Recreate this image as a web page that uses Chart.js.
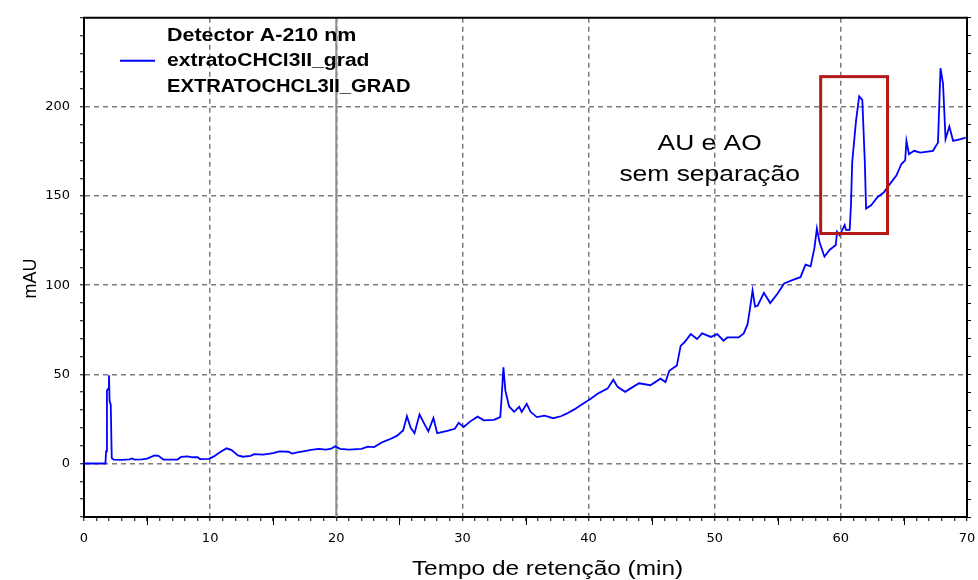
<!DOCTYPE html>
<html>
<head>
<meta charset="utf-8">
<script src="https://cdn.jsdelivr.net/npm/chart.js@4/dist/chart.umd.min.js"></script>
<style>
  html, body { margin: 0; padding: 0; background: #fff; }
</style>
</head>
<body>
<canvas id="chromatogram" width="978" height="580"></canvas>
<script>
(() => {
  'use strict';

  // chromatogram trace
  const retentionTime = [
    0, 1.7, 1.75, 1.82, 1.92, 1.98, 2.03, 2.12, 2.2, 2.35, 3.0, 3.6, 3.8, 4.0, 4.6, 5.0, 5.6, 5.9, 6.3, 7.4,
    7.7, 8.2, 8.6, 9.0, 9.2, 9.9, 10.3, 10.8, 11.3, 11.7, 12.2, 12.6, 13.2, 13.5, 14.2, 15.0, 15.5, 16.2, 16.5, 17.0,
    17.5, 18.0, 18.6, 19.2, 19.6, 19.9, 20.3, 21.0, 22.0, 22.5, 23.0, 23.6, 24.2, 24.8, 25.3, 25.6, 25.9, 26.2, 26.6, 27.0,
    27.3, 27.7, 28.0, 28.8, 29.4, 29.7, 30.1, 30.6, 31.2, 31.7, 32.5, 33.0, 33.1, 33.25, 33.4, 33.7, 34.1, 34.5, 34.7, 35.1,
    35.4, 35.9, 36.5, 37.2, 37.8, 38.3, 38.9, 39.4, 40.2, 40.8, 41.5, 41.96, 42.3, 42.9, 43.3, 44.0, 44.9, 45.7, 46.1, 46.4,
    47.0, 47.3, 47.6, 48.1, 48.6, 49.0, 49.7, 50.2, 50.7, 51.0, 51.9, 52.3, 52.6, 52.8, 53.0, 53.2, 53.4, 53.9, 54.4, 55.0,
    55.5, 56.2, 56.8, 57.2, 57.6, 57.9, 58.1, 58.3, 58.7, 59.1, 59.6, 59.7, 59.9, 60.3, 60.4, 60.7, 60.8, 60.9, 61.2, 61.45,
    61.7, 61.9, 62.0, 62.4, 62.9, 63.4, 63.8, 64.4, 64.8, 65.1, 65.2, 65.4, 65.8, 66.3, 67.3, 67.7, 67.9, 68.1, 68.3, 68.6,
    68.9, 69.5, 69.9
  ];
  const absorbance = [
    0, 0, 6.8, 41, 42, 49.5, 35, 33, 3, 2.2, 2.0, 2.3, 2.8, 2.2, 2.3, 2.8, 4.5, 4.3, 2.2, 2.2,
    3.7, 4.0, 3.5, 3.5, 2.5, 2.6, 4.0, 6.5, 8.5, 7.5, 4.5, 3.8, 4.3, 5.3, 5.0, 5.8, 6.8, 6.6, 5.6, 6.4,
    7.0, 7.6, 8.2, 7.8, 8.3, 9.6, 8.2, 7.8, 8.2, 9.5, 9.2, 11.8, 13.5, 15.5, 18.5, 26.5, 20, 17, 27.5, 22,
    18, 25.5, 17, 18.3, 19.5, 22.8, 20.5, 23.5, 26.3, 24.2, 24.5, 26, 36.5, 54, 41, 32, 29, 31.8, 29, 33.5,
    29, 26, 26.8, 25.4, 26.5, 28.1, 30.5, 32.8, 36.5, 39.5, 42, 47, 43, 40.2, 42, 45, 43.9, 47.6, 45.7, 52,
    55, 66, 68, 72.6, 69.8, 73, 71, 72.6, 68.9, 70.7, 70.7, 73, 78, 87, 97, 88, 88.5, 95.7, 90, 95.5,
    101, 103, 104.5, 111.5, 110.6, 120.7, 131.8, 124.4, 116, 119.8, 122.6, 130, 128, 133.7, 131, 131, 144.8, 169, 192, 206,
    204, 169, 143, 144.8, 149.4, 152, 156, 161.5, 168, 170, 181, 173.5, 175.4, 174.4, 175.4, 180, 221.7, 213, 182, 189,
    181, 182, 182.8
  ];

  const timeRange = [0, 70];
  const absRange = [-30, 250];
  const absLabelMax = 200;
  const timeLabelStep = 10;
  const absLabelStep = 50;
  const markerTime = 20;
  const boxTime = [58.4, 63.7];
  const boxAbs = [129, 217];

  const legendTitle = 'Detector A-210 nm';
  const seriesName = 'extratoCHCl3II_grad';
  const sampleName = 'EXTRATOCHCL3II_GRAD';
  const noteLines = ['AU e AO', 'sem separação'];
  const xTitle = 'Tempo de retenção (min)';
  const yTitle = 'mAU';

  const SANS = '"Liberation Sans", Arial, sans-serif';
  const TICKFONT = {family: '"DejaVu Sans", sans-serif', size: 13};
  const GRID = '#7c7c7c';

  const wideText = (ctx, text, x, y, sx) => {
    ctx.save();
    ctx.translate(x, y);
    ctx.scale(sx, 1);
    ctx.fillText(text, 0, 0);
    ctx.restore();
  };

  const decorations = {
    id: 'decorations',
    beforeDatasetsDraw(chart) {
      const {ctx, chartArea: a, scales: {x}} = chart;
      const mx = x.getPixelForValue(markerTime);
      ctx.save();
      ctx.strokeStyle = '#8c8c8c';
      ctx.lineWidth = 2;
      ctx.beginPath();
      ctx.moveTo(mx, a.top);
      ctx.lineTo(mx, a.bottom);
      ctx.stroke();
      ctx.restore();
    },
    afterDraw(chart) {
      const {ctx, chartArea: a, scales: {x, y}} = chart;
      ctx.save();

      // top frame
      ctx.strokeStyle = '#000';
      ctx.lineWidth = 2;
      ctx.beginPath();
      ctx.moveTo(a.left - 1, a.top);
      ctx.lineTo(a.right + 1, a.top);
      ctx.stroke();

      // longer ticks every 5 min
      ctx.lineWidth = 1;
      for (let t = 5; t < timeRange[1]; t += 10) {
        const px = Math.round(x.getPixelForValue(t)) + 0.5;
        ctx.beginPath();
        ctx.moveTo(px, a.bottom);
        ctx.lineTo(px, a.bottom + 8);
        ctx.stroke();
      }

      // legend
      ctx.fillStyle = '#000';
      ctx.textBaseline = 'alphabetic';
      ctx.textAlign = 'left';
      ctx.font = 'bold 18px ' + SANS;
      wideText(ctx, legendTitle, a.left + 83, a.top + 23, 1.19);
      wideText(ctx, seriesName, a.left + 83, a.top + 48, 1.17);
      wideText(ctx, sampleName, a.left + 83, a.top + 74, 1.12);
      ctx.strokeStyle = '#0000ff';
      ctx.lineWidth = 2;
      ctx.beginPath();
      ctx.moveTo(a.left + 36, a.top + 43);
      ctx.lineTo(a.left + 71, a.top + 43);
      ctx.stroke();

      // highlighted region
      const bx0 = x.getPixelForValue(boxTime[0]);
      const bx1 = x.getPixelForValue(boxTime[1]);
      const by0 = y.getPixelForValue(boxAbs[1]);
      const by1 = y.getPixelForValue(boxAbs[0]);
      ctx.strokeStyle = '#b41818';
      ctx.lineWidth = 3;
      ctx.strokeRect(bx0, by0, bx1 - bx0, by1 - by0);

      // note
      ctx.fillStyle = '#000';
      ctx.textAlign = 'center';
      ctx.font = '22px ' + SANS;
      const nx = x.getPixelForValue(49.6);
      wideText(ctx, noteLines[0], nx, y.getPixelForValue(176), 1.2);
      wideText(ctx, noteLines[1], nx, y.getPixelForValue(158.5), 1.2);

      // axis titles
      ctx.font = '20px ' + SANS;
      wideText(ctx, xTitle, (a.left + a.right) / 2 + 22, 575, 1.22);
      ctx.translate(36, (a.top + a.bottom) / 2 + 11);
      ctx.rotate(-Math.PI / 2);
      ctx.font = '18px ' + SANS;
      ctx.fillText(yTitle, 0, 0);

      ctx.restore();
    }
  };

  const gridColor = (step, lo, hi) => c => {
    const v = c.tick && c.tick.value;
    return (v % step === 0 && v > lo && v < hi) ? GRID : 'rgba(0,0,0,0)';
  };

  new Chart(document.getElementById('chromatogram').getContext('2d'), {
    type: 'line',
    data: {
      datasets: [{
        label: seriesName,
        data: retentionTime.map((t, i) => ({x: t, y: absorbance[i]})),
        borderColor: '#0000ff',
        borderWidth: 1.8,
        pointRadius: 0,
        tension: 0,
        fill: false
      }]
    },
    options: {
      responsive: false,
      animation: false,
      devicePixelRatio: 1,
      layout: {padding: {top: 14, right: 0, left: 0, bottom: 0}},
      plugins: {legend: {display: false}, tooltip: {enabled: false}},
      scales: {
        x: {
          type: 'linear',
          min: timeRange[0],
          max: timeRange[1],
          afterFit: s => { s.height = 63; s.paddingLeft = 0; s.paddingRight = 0; },
          ticks: {
            stepSize: 1,
            autoSkip: false,
            maxRotation: 0,
            padding: 10,
            color: '#000',
            font: TICKFONT,
            callback: v => (v % timeLabelStep === 0 ? v : '')
          },
          grid: {
            color: gridColor(timeLabelStep, timeRange[0], timeRange[1]),
            lineWidth: 1.5,
            tickColor: '#000',
            tickLength: 4,
            tickWidth: 1
          },
          border: {display: true, color: '#000', width: 2, dash: [5, 4]}
        },
        y: {
          min: absRange[0],
          max: absRange[1],
          afterFit: s => { s.width = 84; },
          ticks: {
            stepSize: 10,
            autoSkip: false,
            padding: 10,
            color: '#000',
            font: TICKFONT,
            callback: v => (v % absLabelStep === 0 && v >= 0 && v <= absLabelMax ? v : '')
          },
          grid: {
            color: gridColor(absLabelStep, absRange[0], absRange[1]),
            lineWidth: 1.5,
            tickColor: '#000',
            tickLength: 4,
            tickWidth: 1
          },
          border: {display: true, color: '#000', width: 2, dash: [5, 4]}
        },
        y2: {
          position: 'right',
          min: absRange[0],
          max: absRange[1],
          afterFit: s => { s.width = 11; },
          ticks: {stepSize: 10, autoSkip: false, display: false},
          grid: {drawOnChartArea: false, tickColor: '#000', tickLength: 4, tickWidth: 1},
          border: {display: true, color: '#000', width: 2}
        }
      }
    },
    plugins: [decorations]
  });
})();
</script>
</body>
</html>
